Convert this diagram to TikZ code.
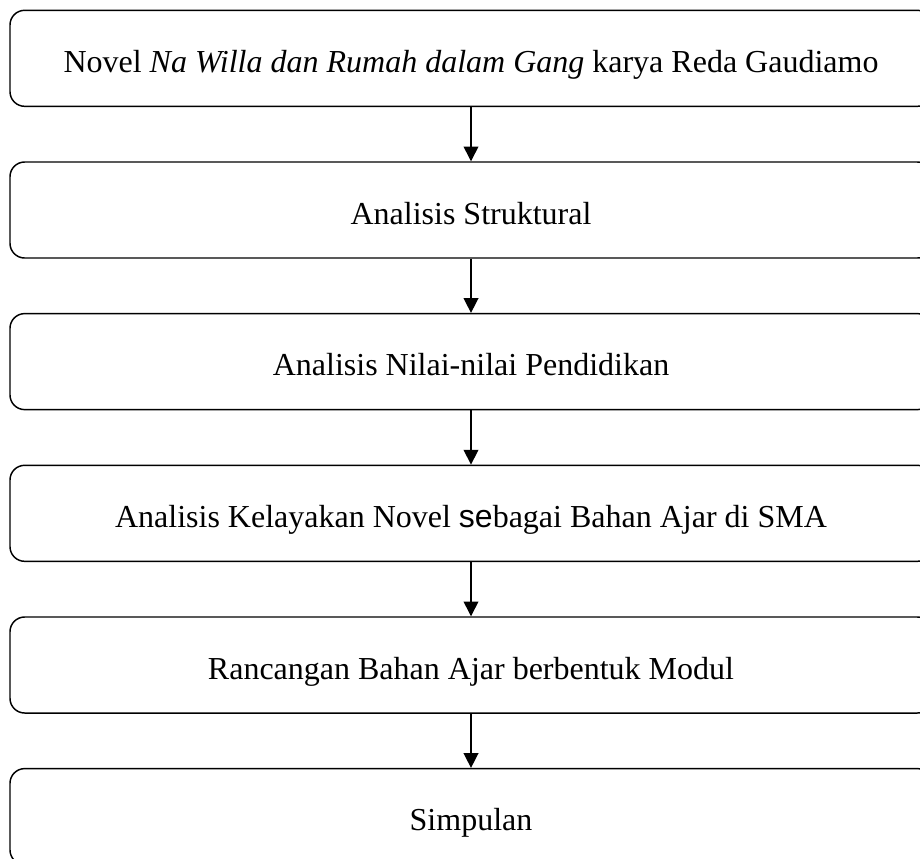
\documentclass[tikz,border=0pt]{standalone}
\usepackage{fontspec}
\setmainfont{Liberation Serif}
\newfontfamily\sansfam{Liberation Sans}
\usetikzlibrary{arrows.meta}

\begin{document}
\begin{tikzpicture}[x=0.75pt,y=-0.75pt]
\tikzstyle{tahap}=[rectangle,draw,line width=1.1pt,rounded corners=11pt,minimum width=691.5pt,minimum height=72pt,text height=26pt,text depth=5pt,font=\fontsize{24}{29}\selectfont]
\tikzstyle{panah}=[-{Triangle[length=11pt,width=11pt]},line width=1.1pt]
\useasboundingbox (0,0) rectangle (920,858);
\clip (0,0) rectangle (920,858);
\node [tahap] (novel) at (471,58.3) {Novel \textit{Na Willa dan Rumah dalam Gang} karya Reda Gaudiamo};
\node [tahap] (struktur) at (471,210) {Analisis Struktural};
\node [tahap] (nilai) at (471,361.6) {Analisis Nilai-nilai Pendidikan};
\node [tahap] (layak) at (471,513.3) {Analisis Kelayakan Novel {\sansfam se}bagai Bahan Ajar di SMA};
\node [tahap] (modul) at (471,665) {Rancangan Bahan Ajar berbentuk Modul};
\node [tahap] (simpul) at (471,816.6) {Simpulan};
\draw [panah] (novel) -- (struktur);
\draw [panah] (struktur) -- (nilai);
\draw [panah] (nilai) -- (layak);
\draw [panah] (layak) -- (modul);
\draw [panah] (modul) -- (simpul);
\end{tikzpicture}
\end{document}
